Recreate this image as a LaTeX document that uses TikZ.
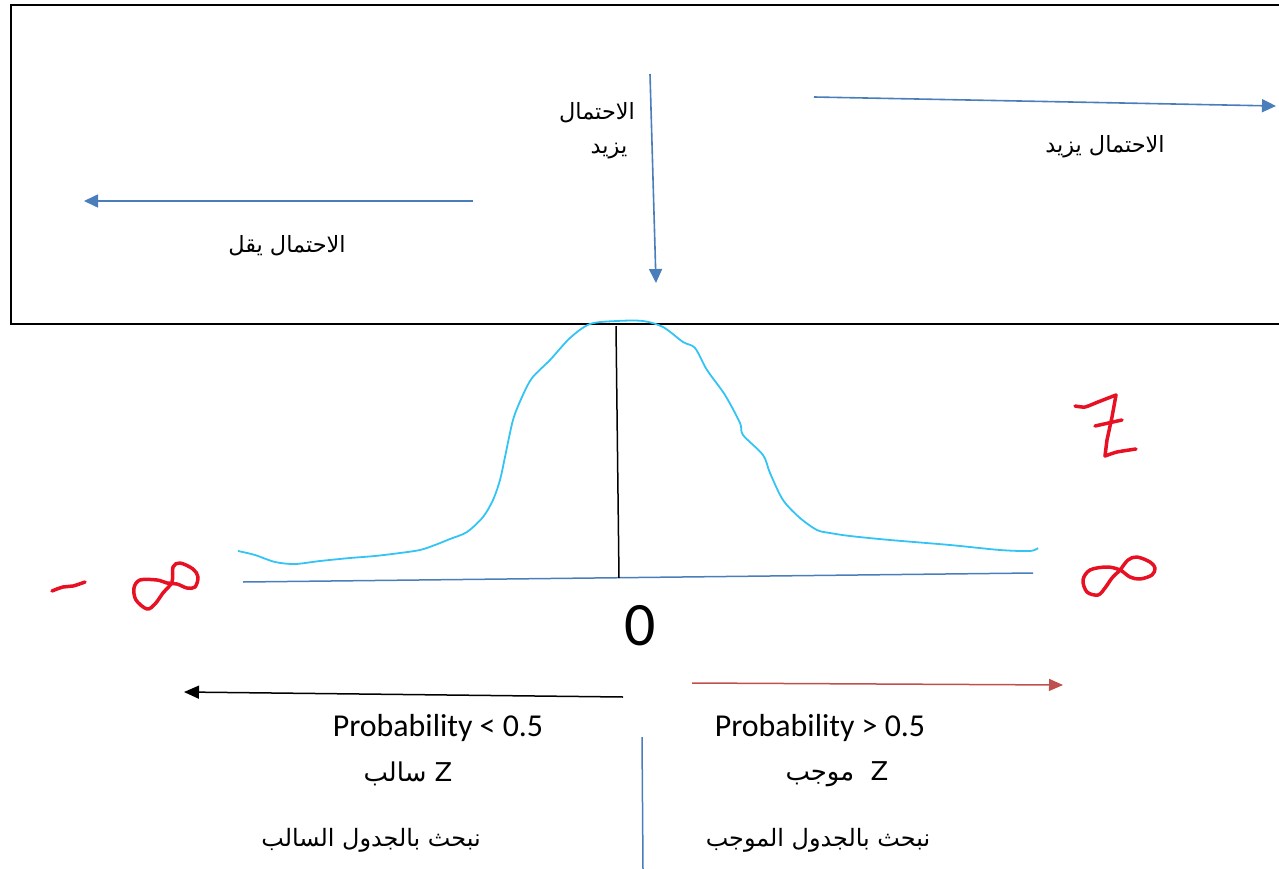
\documentclass[tikz,border=0pt]{standalone}
\usepackage{fontspec}
\setmainfont{Carlito}
\newfontfamily\arabicfont[Script=Arabic]{DejaVu Sans}
\TeXXeTstate=1
\usetikzlibrary{arrows.meta}
\definecolor{boxblue}{HTML}{4A7EBB}
\definecolor{curveblue}{HTML}{33C4F5}
\definecolor{inkred}{HTML}{E81123}
\definecolor{darkred}{HTML}{C0504D}
\tikzset{
  bluearrow/.style={draw=boxblue, line width=1.6bp, -{Triangle[length=14bp,width=13bp]}},
  ar/.style={inner sep=0pt, font=\fontsize{22.5}{26}\selectfont\arabicfont},
  arb/.style={inner sep=0pt, font=\fontsize{24}{28}\selectfont\arabicfont},
  lat/.style={inner sep=0pt, font=\fontsize{32}{36}\selectfont},
  ink/.style={draw=inkred, line width=3.5bp, line cap=round, line join=round},
}
\begin{document}
\begin{tikzpicture}[x=1bp,y=-1bp]
\useasboundingbox (0,0) rectangle (1279,869);
% frame
\draw[line width=2bp] (1290,5) -- (11,5) -- (11,324) -- (1290,324);
% top arrows
\coordinate (vA) at (650,74);
\coordinate (vB) at (656,283);
\draw[bluearrow] (vA) -- (vB);
\coordinate (rA) at (814,97);
\coordinate (rB) at (1276,106);
\draw[bluearrow] (rA) -- (rB);
\coordinate (lA) at (473,201);
\coordinate (lB) at (84,201);
\draw[bluearrow] (lA) -- (lB);
% top labels
\node[ar] (t1) at (597,113) {\beginR الاحتمال\endR};
\node[ar] (t2) at (609,151) {\beginR يزيد\endR};
\node[ar] (t3) at (1105,147) {\beginR الاحتمال يزيد\endR};
\node[ar] (t4) at (287,246) {\beginR الاحتمال يقل\endR};
% axis
\coordinate (axL) at (243,582);
\coordinate (axR) at (1033,573);
\draw[draw=boxblue, line width=1.5bp] (axL) -- (axR);
% bell curve
\draw[draw=curveblue, line width=1.8bp, line join=round] plot[smooth, tension=0.5] coordinates {
 (238,551) (255,555) (275,562) (295,564) (320,561) (350,558) (375,556) (400,553) (420,550) (435,545)
 (450,539) (467,532) (483,517) (493,500) (500,480) (505,457) (513,420) (522,397) (532,378) (550,360)
 (570,338) (590,324) (617,321) (643,321) (663,327) (683,342) (695,348) (707,370) (725,395) (740,423)
 (743,435) (763,455) (770,473) (783,500) (800,518) (817,530) (830,533) (850,536) (890,540) (950,545)
 (1000,550) (1030,551) (1038,548)};
% centre line
\coordinate (cT) at (616,326);
\coordinate (cB) at (619,578);
\draw[line width=1.5bp] (cT) -- (cB);
% zero
\node[inner sep=0pt, font=\fontsize{62}{66}\selectfont] (zero) at (640,626) {0};
% bottom arrows
\coordinate (bA) at (623,697);
\coordinate (bB) at (184,692);
\draw[line width=1.5bp, -{Triangle[length=15bp,width=13bp]}] (bA) -- (bB);
\coordinate (dA) at (692,683);
\coordinate (dB) at (1063,685);
\draw[draw=darkred, line width=1.5bp, -{Triangle[length=14bp,width=12bp]}] (dA) -- (dB);
% divider
\coordinate (dvT) at (642,737);
\coordinate (dvB) at (643,869);
\draw[draw=boxblue, line width=1.5bp] (dvT) -- (dvB);
% bottom texts
\node[lat] (p1) at (438,728) {Probability < 0.5};
\node[lat] (p2) at (820,728) {Probability > 0.5};
\node[arb, font=\fontsize{26}{30}\selectfont\arabicfont] (z1) at (408,774) {\beginR Z سالب\endR};
\node[arb, font=\fontsize{26}{30}\selectfont\arabicfont] (z2) at (837,774) {\beginR Z\ \ موجب\endR};
\node[arb] (n1) at (371,840) {\beginR نبحث بالجدول السالب\endR};
\node[arb] (n2) at (818,840) {\beginR نبحث بالجدول الموجب\endR};
% handwritten red marks
\draw[ink] plot[smooth, tension=0.6] coordinates {(52,591) (63,587) (73,586) (85,582)};
\draw[ink] plot[smooth cycle, tension=0.55] coordinates {
 (167,583) (157,580) (140,580) (134,588) (136,600) (147,609) (155,604) (163,593) (172,582) (173,567)
 (180,563) (193,569) (198,577) (195,587) (187,588) (177,584)};
\draw[ink] plot[smooth cycle, tension=0.55] coordinates {
 (1120,570) (1107,567) (1090,570) (1083,580) (1087,592) (1098,595) (1105,588) (1112,578) (1120,570)
 (1128,560) (1137,557) (1150,562) (1155,568) (1152,575) (1140,579) (1130,577)};
\draw[ink] plot[smooth, tension=0.4] coordinates {(1075,406) (1085,407) (1098,402) (1116,395)};
\draw[ink] (1116,395) -- (1112,417) -- (1107,440) -- (1105,456);
\draw[ink] plot[smooth, tension=0.4] coordinates {(1105,456) (1117,452) (1136,449)};
\draw[ink] (1095,426) -- (1122,420);
\end{tikzpicture}
\end{document}
